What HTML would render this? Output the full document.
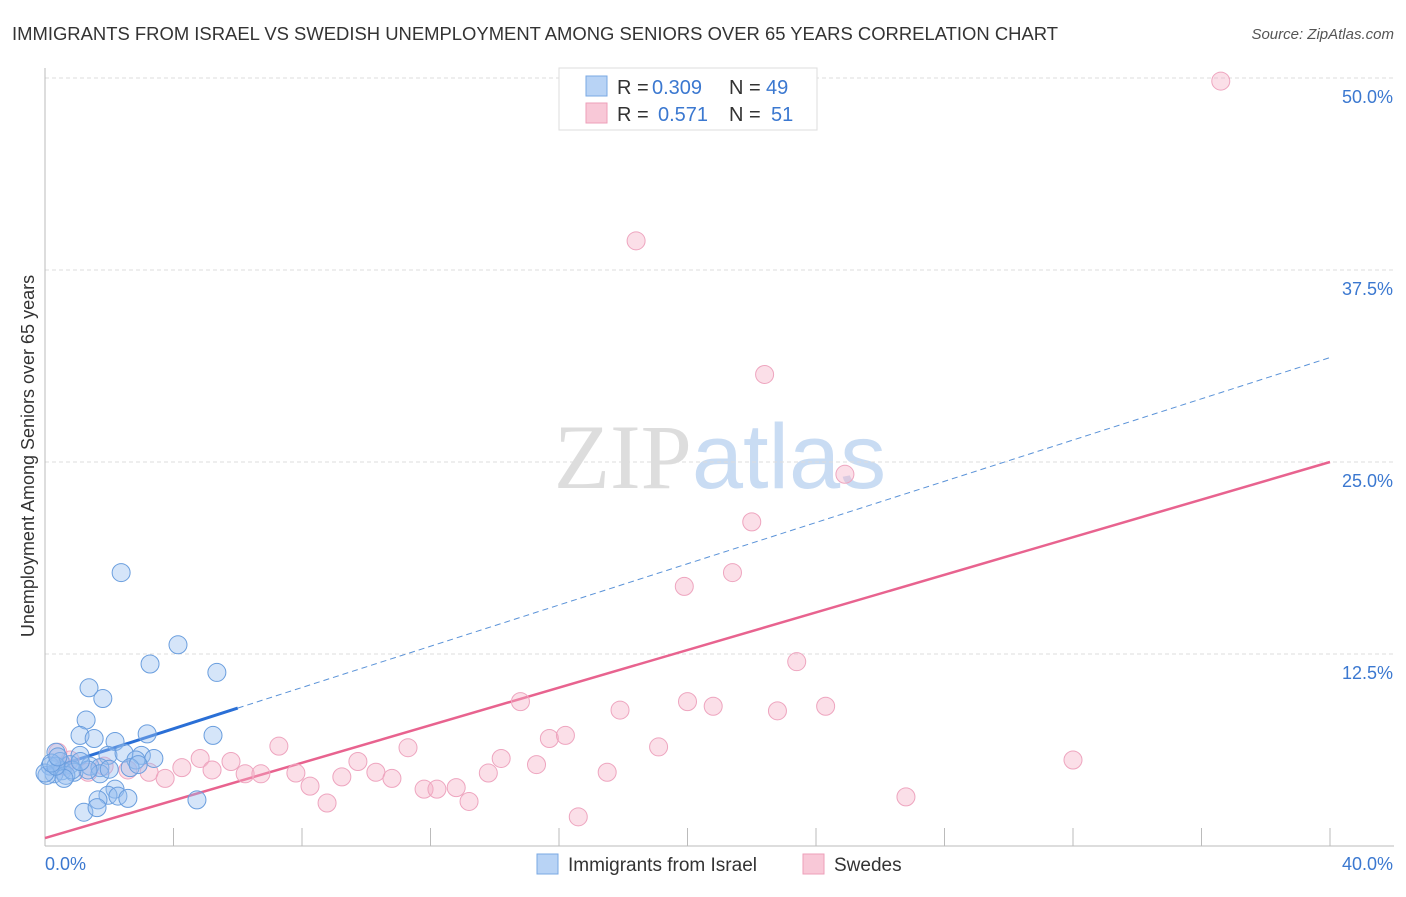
<!DOCTYPE html>
<html><head><meta charset="utf-8"><style>
body{margin:0;background:#fff;font-family:"Liberation Sans",sans-serif;}
</style></head><body>
<svg id="chart" width="1406" height="892" xmlns="http://www.w3.org/2000/svg" font-family="Liberation Sans, sans-serif">
<text x="12" y="40" font-size="18" fill="#333" textLength="1046" lengthAdjust="spacingAndGlyphs">IMMIGRANTS FROM ISRAEL VS SWEDISH UNEMPLOYMENT AMONG SENIORS OVER 65 YEARS CORRELATION CHART</text>
<text x="1394" y="39" font-size="15" fill="#555" font-style="italic" text-anchor="end">Source: ZipAtlas.com</text>
<text x="720" y="488" font-size="92" text-anchor="middle"><tspan fill="#ddd" font-family="Liberation Serif, serif">ZIP</tspan><tspan fill="#c9dcf3">atlas</tspan></text>
<text transform="translate(34,456) rotate(-90)" font-size="18" fill="#333" text-anchor="middle">Unemployment Among Seniors over 65 years</text>
<g id="grid"></g><g id="axes"></g><g id="trend"></g><g id="pts"></g>
<g>
<rect x="559" y="68" width="258" height="62" fill="#fff" stroke="#ddd"/>
<rect x="586" y="76" width="21" height="20" fill="#b8d3f5" stroke="#7aa8e3"/>
<rect x="586" y="103" width="21" height="20" fill="#f8c8d7" stroke="#ee9fba"/>
<text x="617" y="94" font-size="20" fill="#333">R =</text>
<text x="652" y="94" font-size="20" fill="#3b78d0">0.309</text>
<text x="729" y="94" font-size="20" fill="#333">N =</text>
<text x="766" y="94" font-size="20" fill="#3b78d0">49</text>
<text x="617" y="121" font-size="20" fill="#333">R =</text>
<text x="658" y="121" font-size="20" fill="#3b78d0">0.571</text>
<text x="729" y="121" font-size="20" fill="#333">N =</text>
<text x="771" y="121" font-size="20" fill="#3b78d0">51</text>
</g>
<g>
<rect x="537" y="854" width="21" height="20" fill="#b8d3f5" stroke="#7aa8e3"/>
<text x="568" y="871" font-size="19" fill="#333">Immigrants from Israel</text>
<rect x="803" y="854" width="21" height="20" fill="#f8c8d7" stroke="#ee9fba"/>
<text x="834" y="871" font-size="19" fill="#333">Swedes</text>
</g>
</svg>
<script>
const yTicks=[12.5,25,37.5,50];
const yTickLabels=["12.5%","25.0%","37.5%","50.0%"];
const xTickLabels=["0.0%","40.0%"];
const blueX=[2.37,4.14,3.27,5.35,1.37,1.8,1.28,1.09,1.53,3.18,5.23,2.18,0.34,1.09,1.96,2.46,3.0,3.39,2.83,0.47,0.78,0.16,1.4,1.71,2.65,0.53,0.9,0.28,0.06,0.65,1.71,1.34,0,0.84,2.18,1.96,1.65,2.27,2.58,4.73,1.21,1.62,0.59,0.34,0.2,1.1,2.0,2.9,0.4];
const blueY=[17.8,13.1,11.85,11.3,10.3,9.6,8.2,7.2,7.0,7.3,7.2,6.8,6.1,5.9,5.9,6.05,5.9,5.7,5.6,5.5,5.3,5.2,5.2,5.1,5.1,4.9,4.8,4.7,4.6,4.6,4.7,4.95,4.75,4.95,3.7,3.3,3.0,3.25,3.1,3.0,2.2,2.5,4.4,5.2,5.4,5.5,5.0,5.3,5.8];
const pinkX=[36.6,18.4,22.4,24.9,22.0,21.4,19.9,23.4,14.8,17.9,20.0,20.8,22.8,24.3,15.7,16.2,19.1,11.3,7.28,4.83,9.74,14.2,15.3,32.0,5.79,4.26,5.2,3.24,6.23,6.72,7.81,10.3,9.24,10.8,13.8,17.5,3.74,8.25,11.8,12.2,12.8,8.78,13.2,16.6,26.8,0.4,0.78,1.34,1.84,2.58,0.6];
const pinkY=[49.8,39.4,30.7,24.2,21.1,17.8,16.9,12.0,9.4,8.85,9.4,9.1,8.8,9.1,7.0,7.2,6.45,6.4,6.5,5.7,5.5,5.7,5.3,5.6,5.5,5.1,4.95,4.8,4.7,4.7,4.75,4.8,4.5,4.4,4.75,4.8,4.4,3.9,3.7,3.7,3.8,2.8,2.9,1.9,3.2,6.1,5.6,4.8,5.2,4.95,5.2];
const blueTrend=[4.95,31.8];
const pinkTrend=[0.52,25.0];
const X0=45,X1=1330,Y0=846,YS=15.36;
const sx=v=>X0+(X1-X0)*v/40, sy=v=>Y0-v*YS;
const NS="http://www.w3.org/2000/svg";
function mk(t,a,p){const e=document.createElementNS(NS,t);for(const k in a)e.setAttribute(k,a[k]);document.getElementById(p).appendChild(e);return e;}
yTicks.forEach((t,i)=>{
 const l=mk('line',{x1:X0,x2:1394,y1:sy(t),y2:sy(t),stroke:'#ddd','stroke-dasharray':'4,3'},'grid');
 
 
 const tx=mk('text',{x:1393,y:sy(t)+25,'font-size':18,fill:'#3b78d0','text-anchor':'end'},'grid');
 tx.textContent=yTickLabels[i];
 
 
});
let a=mk('line',{x1:X0,x2:X0,y1:68,y2:Y0,stroke:'#bbb'},'axes');


a=mk('line',{x1:X0,x2:1394,y1:Y0,y2:Y0,stroke:'#bbb'},'axes');


for(let v=0;v<=40;v+=4){const t=mk('line',{x1:sx(v),x2:sx(v),y1:828,y2:Y0,stroke:'#bbb'},'axes');
 
 }
[[0,'start',45],[40,'end',1393]].forEach((d,i)=>{const t=mk('text',{x:d[2],y:870,'font-size':18,fill:'#3b78d0','text-anchor':d[1]},'axes');t.textContent=xTickLabels[i];
 
 });
function pts(xs,ys,fill,stroke,name){xs.forEach((x,i)=>{const c=mk('circle',{cx:sx(x),cy:sy(ys[i]),r:9,fill:fill,stroke:stroke,'stroke-width':1},'pts');
 
 });}
pts(pinkX,pinkY,'rgba(246,175,198,0.4)','#eea5bf','swedes-point');
pts(blueX,blueY,'rgba(150,190,240,0.4)','#6a9ede','israel-point');
const bx=6;const by=blueTrend[0]+(blueTrend[1]-blueTrend[0])*bx/40;
let t=mk('line',{x1:sx(0),y1:sy(blueTrend[0]),x2:sx(bx),y2:sy(by),stroke:'#2a6fd6','stroke-width':3},'trend');


t=mk('line',{x1:sx(bx),y1:sy(by),x2:sx(40),y2:sy(blueTrend[1]),stroke:'#5b93d8','stroke-width':1,'stroke-dasharray':'6,4'},'trend');


t=mk('line',{x1:sx(0),y1:sy(pinkTrend[0]),x2:sx(40),y2:sy(pinkTrend[1]),stroke:'#e8638f','stroke-width':2.5},'trend');


</script>
</body></html>
